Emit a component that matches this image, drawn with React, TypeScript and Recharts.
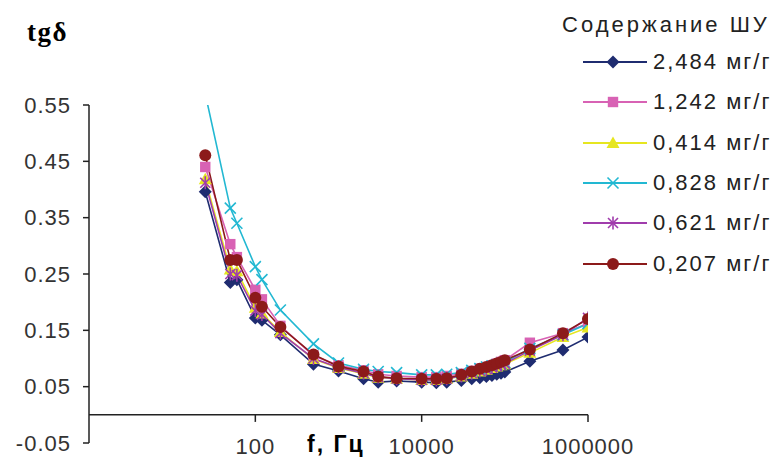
import React from 'react';
import { LineChart, Line, XAxis, YAxis, ReferenceLine, Legend } from 'recharts';

const FREQ = [25, 50, 60, 100, 120, 200, 500, 1000, 2000, 3000, 5000, 10000, 15000, 20000, 30000, 40000, 50000, 60000, 70000, 80000, 90000, 100000, 200000, 500000, 1000000];

const S_2484 = [0.396, 0.235, 0.24, 0.172, 0.168, 0.142, 0.09, 0.078, 0.064, 0.058, 0.06, 0.058, 0.057, 0.058, 0.061, 0.064, 0.066, 0.068, 0.07, 0.072, 0.074, 0.076, 0.095, 0.115, 0.138];
const S_1242 = [0.44, 0.303, 0.28, 0.222, 0.205, 0.158, 0.105, 0.088, 0.079, 0.072, 0.069, 0.067, 0.067, 0.069, 0.073, 0.078, 0.082, 0.085, 0.088, 0.091, 0.094, 0.097, 0.128, 0.145, 0.162];
const S_0414 = [0.418, 0.258, 0.255, 0.19, 0.18, 0.147, 0.099, 0.083, 0.073, 0.066, 0.064, 0.062, 0.062, 0.064, 0.068, 0.073, 0.077, 0.08, 0.083, 0.086, 0.088, 0.09, 0.11, 0.138, 0.155];
const S_0828 = [0.57, 0.367, 0.34, 0.263, 0.24, 0.186, 0.126, 0.092, 0.081, 0.077, 0.075, 0.071, 0.071, 0.072, 0.075, 0.079, 0.082, 0.085, 0.087, 0.089, 0.091, 0.093, 0.118, 0.142, 0.162];
const S_0621 = [0.412, 0.25, 0.248, 0.185, 0.178, 0.145, 0.1, 0.084, 0.074, 0.067, 0.064, 0.062, 0.062, 0.064, 0.069, 0.074, 0.078, 0.081, 0.084, 0.087, 0.089, 0.091, 0.114, 0.142, 0.172];
const S_0207 = [0.461, 0.275, 0.275, 0.208, 0.192, 0.156, 0.107, 0.086, 0.077, 0.068, 0.065, 0.064, 0.064, 0.065, 0.071, 0.077, 0.082, 0.085, 0.088, 0.091, 0.094, 0.097, 0.116, 0.145, 0.17];

const Y_TICKS = [-0.05, 0.05, 0.15, 0.25, 0.35, 0.45, 0.55];
const X_TICKS = [100, 10000, 1000000];

const LEGEND_TITLE = 'Содержание ШУ';
const X_TITLE = 'f, Гц';
const Y_TITLE = 'tgδ';

type Shape = 'diamond' | 'square' | 'triangle' | 'x' | 'star' | 'circle';

const SERIES: { key: string; name: string; color: string; shape: Shape; values: number[] }[] = [
  { key: 's2484', name: '2,484 мг/г', color: '#1F2C70', shape: 'diamond', values: S_2484 },
  { key: 's1242', name: '1,242 мг/г', color: '#D862B4', shape: 'square', values: S_1242 },
  { key: 's0414', name: '0,414 мг/г', color: '#E6E620', shape: 'triangle', values: S_0414 },
  { key: 's0828', name: '0,828 мг/г', color: '#22B8D2', shape: 'x', values: S_0828 },
  { key: 's0621', name: '0,621 мг/г', color: '#A03CAC', shape: 'star', values: S_0621 },
  { key: 's0207', name: '0,207 мг/г', color: '#8C1A1A', shape: 'circle', values: S_0207 },
];

const DATA = FREQ.map((f, i) => {
  const row: Record<string, number> = { f };
  SERIES.forEach((s) => {
    row[s.key] = s.values[i];
  });
  return row;
});

const FONT = '"Liberation Sans", Arial, sans-serif';

function Marker({ shape, color, cx, cy, k = 1 }: { shape: Shape; color: string; cx: number; cy: number; k?: number }) {
  if (cx == null || cy == null || isNaN(cx) || isNaN(cy)) return null;
  const s = 6.5 * k;
  switch (shape) {
    case 'diamond':
      return <polygon points={`${cx},${cy - s} ${cx + s},${cy} ${cx},${cy + s} ${cx - s},${cy}`} fill={color} />;
    case 'square':
      return <rect x={cx - 5.2 * k} y={cy - 5.2 * k} width={10.4 * k} height={10.4 * k} fill={color} />;
    case 'triangle':
      return <polygon points={`${cx},${cy - s} ${cx + s},${cy + 5 * k} ${cx - s},${cy + 5 * k}`} fill={color} />;
    case 'x':
      return (
        <g stroke={color} strokeWidth={1.6}>
          <line x1={cx - 5.5 * k} y1={cy - 5.5 * k} x2={cx + 5.5 * k} y2={cy + 5.5 * k} />
          <line x1={cx - 5.5 * k} y1={cy + 5.5 * k} x2={cx + 5.5 * k} y2={cy - 5.5 * k} />
        </g>
      );
    case 'star':
      return (
        <g stroke={color} strokeWidth={1.6}>
          <line x1={cx - 5 * k} y1={cy - 5 * k} x2={cx + 5 * k} y2={cy + 5 * k} />
          <line x1={cx - 5 * k} y1={cy + 5 * k} x2={cx + 5 * k} y2={cy - 5 * k} />
          <line x1={cx} y1={cy - 6.5 * k} x2={cx} y2={cy + 6.5 * k} />
        </g>
      );
    case 'circle':
    default:
      return <circle cx={cx} cy={cy} r={6 * k} fill={color} />;
  }
}

const YTick = (props: any) => {
  const { y, payload } = props;
  return (
    <text x={71} y={y} dy={7.5} textAnchor="end" fontFamily={FONT} fontSize={22} letterSpacing={1} fill="#333">
      {Number(payload.value).toFixed(2)}
    </text>
  );
};

const XTick = (props: any) => {
  const { x, payload } = props;
  return (
    <text x={x} y={454} textAnchor="middle" fontFamily={FONT} fontSize={22} letterSpacing={1} fill="#333">
      {String(payload.value)}
    </text>
  );
};

const LegendContent = () => {
  const rowCenters = [62, 102, 143, 183, 223, 264];
  return (
    <div style={{ position: 'relative', width: 242, height: 290, fontFamily: FONT, color: '#222' }}>
      <div style={{ position: 'absolute', left: 22, top: 11, fontSize: 22, letterSpacing: 3, whiteSpace: 'nowrap', lineHeight: '28px' }}>
        {LEGEND_TITLE}
      </div>
      {SERIES.map((s, i) => (
        <div key={s.key} style={{ position: 'absolute', left: 0, top: rowCenters[i] - 14, height: 28, width: 242 }}>
          <svg width={110} height={28} style={{ position: 'absolute', left: 0, top: 0 }}>
            <line x1={43} y1={14} x2={107} y2={14} stroke={s.color} strokeWidth={2} />
            <Marker shape={s.shape} color={s.color} cx={73} cy={14} k={1} />
          </svg>
          <div style={{ position: 'absolute', left: 113, top: 0, fontSize: 22, letterSpacing: 2, lineHeight: '28px', whiteSpace: 'nowrap' }}>
            {s.name}
          </div>
        </div>
      ))}
    </div>
  );
};

export default function App() {
  return (
    <div style={{ position: 'absolute', left: 0, top: 0, width: 782, height: 463, background: '#fff' }}>
      <LineChart width={782} height={463} data={DATA} margin={{ top: 105, right: 194, bottom: 19, left: 0 }}>
        <XAxis
          dataKey="f"
          type="number"
          scale="log"
          domain={[1, 1000000]}
          ticks={X_TICKS}
          allowDataOverflow
          axisLine={false}
          tickLine={false}
          height={1}
          tick={<XTick />}
          interval={0}
        />
        <YAxis
          type="number"
          domain={[-0.05, 0.55]}
          ticks={Y_TICKS}
          allowDataOverflow
          width={89}
          stroke="#222"
          axisLine={{ stroke: '#222', strokeWidth: 1.5 }}
          tickLine={{ stroke: '#222', strokeWidth: 1.5 }}
          tickSize={6}
          tick={<YTick />}
          interval={0}
        />
        <ReferenceLine y={0} stroke="#222" strokeWidth={1.5} />
        {X_TICKS.map((t) => (
          <ReferenceLine
            key={t}
            segment={[{ x: t, y: 0 }, { x: t, y: -0.0125 }]}
            stroke="#222"
            strokeWidth={1.5}
          />
        ))}
        {SERIES.map((s) => (
          <Line
            key={s.key}
            dataKey={s.key}
            name={s.name}
            stroke={s.color}
            strokeWidth={1.6}
            type="linear"
            isAnimationActive={false}
            activeDot={false}
            dot={(p: any) => <Marker key={`${s.key}-${p.index}`} shape={s.shape} color={s.color} cx={p.cx} cy={p.cy} />}
          />
        ))}
        <Legend
          layout="vertical"
          align="center"
          verticalAlign="middle"
          content={<LegendContent />}
          wrapperStyle={{ left: 540, top: 0, width: 242, height: 290 }}
        />
        <text x={27} y={41} fontFamily='"Liberation Serif", "Times New Roman", serif' fontWeight="bold" fontSize={27} letterSpacing={1.5} fill="#000">
          {Y_TITLE}
        </text>
        <text x={307} y={452} fontFamily={FONT} fontWeight="bold" fontSize={23} letterSpacing={2} fill="#000">
          {X_TITLE}
        </text>
      </LineChart>
    </div>
  );
}
